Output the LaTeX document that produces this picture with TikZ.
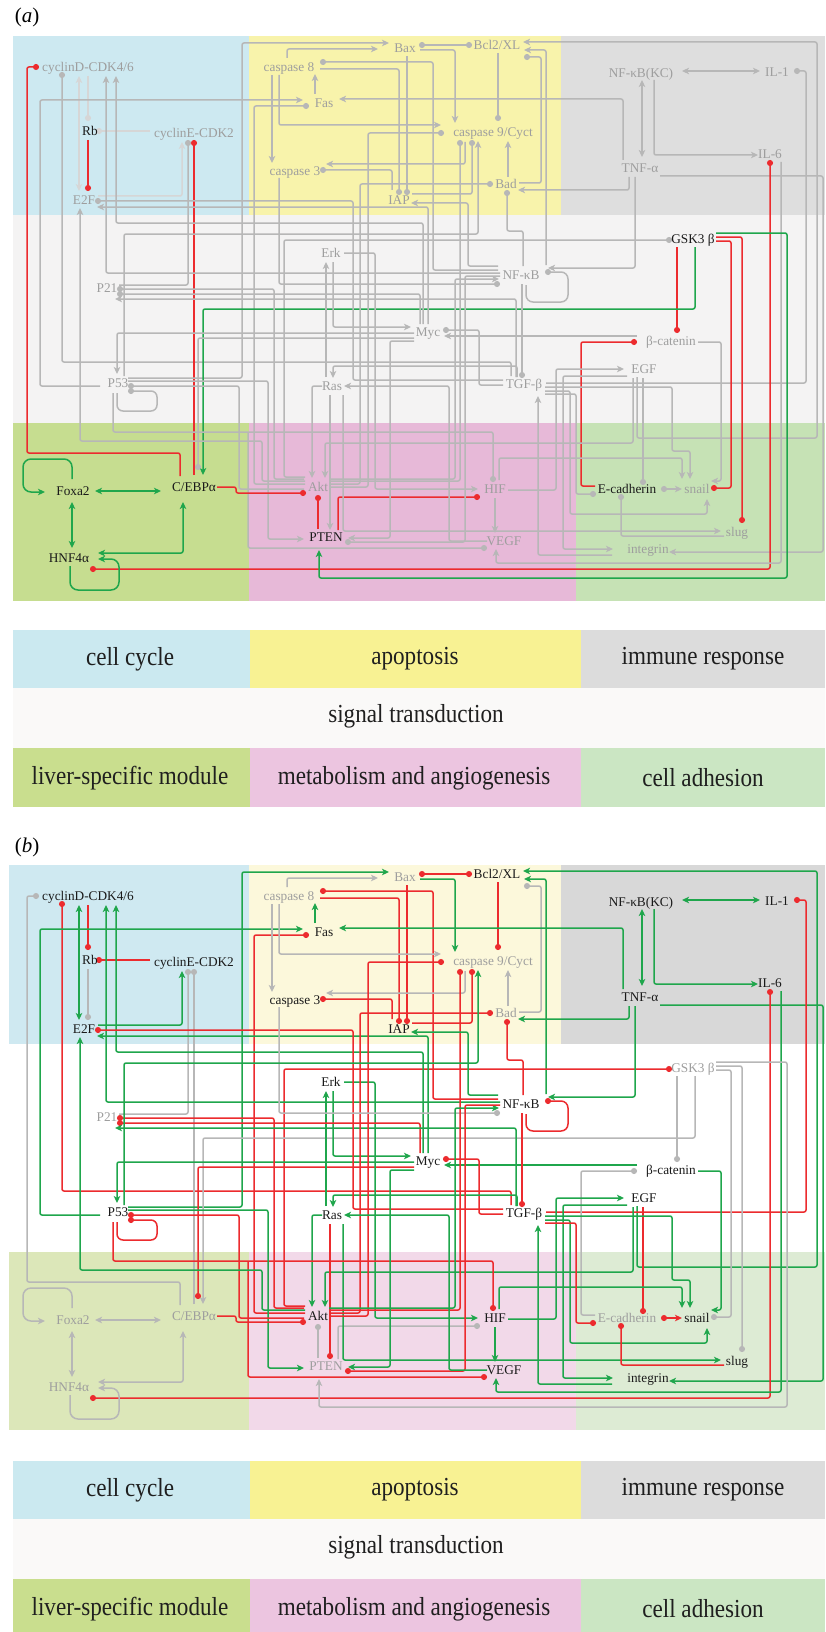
\documentclass[tikz,border=0pt]{standalone}
\usepackage{fontspec}
\setmainfont{Liberation Serif}
\newfontfamily\legfont[FakeStretch=0.89]{Liberation Serif}
\usetikzlibrary{arrows.meta}
% line colours
\definecolor{lnG}{HTML}{B7B7B7}
\definecolor{lnL}{HTML}{D6D6D6}
\definecolor{lnR}{HTML}{EC2B2E}
\definecolor{lnN}{HTML}{1FA64C}
\definecolor{txK}{HTML}{1A1A1A}
\definecolor{txG}{HTML}{9E9E9E}
% panel a backgrounds
\definecolor{aBlue}{HTML}{CDE9F1}
\definecolor{aYel}{HTML}{F8F3AB}
\definecolor{aGry}{HTML}{DEDEDE}
\definecolor{aMid}{HTML}{F4F3F3}
\definecolor{aLiv}{HTML}{C6DD90}
\definecolor{aPnk}{HTML}{E7B9D8}
\definecolor{aAdh}{HTML}{C6E2B5}
% panel b backgrounds
\definecolor{bBlue}{HTML}{CFE9F1}
\definecolor{bYel}{HTML}{FCF8DB}
\definecolor{bGry}{HTML}{D8D8D8}
\definecolor{bMid}{HTML}{FFFFFF}
\definecolor{bLiv}{HTML}{DCE7B9}
\definecolor{bPnk}{HTML}{F2D9E9}
\definecolor{bAdh}{HTML}{DDEBD4}
% legend
\definecolor{gBlue}{HTML}{CBE9F0}
\definecolor{gYel}{HTML}{F8F293}
\definecolor{gGry}{HTML}{DCDCDC}
\definecolor{gMid}{HTML}{FAF9F8}
\definecolor{gLiv}{HTML}{C9DE8E}
\definecolor{gPnk}{HTML}{ECC5E0}
\definecolor{gAdh}{HTML}{CBE6C3}

\tikzset{
 ed/.style={line width=1.5pt, rounded corners=2pt},
 tpA/.style={-{Stealth[length=7pt,width=6.5pt,inset=1.8pt]}},
 tpD/.style={-{Circle[length=6pt]}},
 tpAA/.style={{Stealth[length=7pt,width=6.5pt,inset=1.8pt]}-{Stealth[length=7pt,width=6.5pt,inset=1.8pt]}},
 tpDD/.style={{Circle[length=6pt]}-{Circle[length=6pt]}},
 tpDA/.style={{Circle[length=6pt]}-{Stealth[length=7pt,width=6.5pt,inset=1.8pt]}},
 lab/.style={inner sep=0pt, font=\fontsize{13.3}{15}\selectfont, text height=9pt, text depth=0pt},
 leg/.style={inner sep=0pt, font=\legfont\fontsize{26}{29}\selectfont, text=black!88},
}

\newif\ifpb
\newcommand\Edge[5]{\ifpb\draw[ed,ln#2,tp#4] #5;\else\draw[ed,ln#1,tp#3] #5;\fi}
\newcommand\Nd[6]{\ifpb\node[lab,text=tx#6] (#1b) at (#2,#3) {#4};\else\node[lab,text=tx#5] (#1a) at (#2,#3) {#4};\fi}

\newcommand\alledges{%
\Edge{R}{G}{D}{D}{(180,476) -- (180,453) -- (27,453) -- (27,67) -- (39,67)}
\Edge{G}{R}{D}{D}{(511,376) -- (511,362) -- (62,362) -- (62,72)}
\Edge{L}{N}{AA}{AA}{(79,76) -- (79,191)}
\Edge{L}{R}{D}{D}{(88,76) -- (88,121)}
\Edge{R}{G}{D}{D}{(88,140) -- (88,191)}
\Edge{L}{R}{D}{D}{(150,131) -- (96,131)}
\Edge{L}{N}{A}{A}{(98,196) -- (182,196) -- (182,142)}
\Edge{G}{G}{D}{D}{(119,285) -- (188,285) -- (188,140)}
\Edge{R}{G}{D}{D}{(194,475) -- (194,140)}
\Edge{G}{N}{A}{A}{(100,386) -- (40,386) -- (40,100) -- (303,100)}
\Edge{G}{R}{D}{D}{(305,484) -- (254,484) -- (254,106) -- (309,106)}
\Edge{G}{N}{A}{A}{(128,378) -- (242,378) -- (242,43) -- (389,43)}
\Edge{G}{G}{A}{A}{(287,58) -- (287,49) -- (378,49)}
\Edge{G}{N}{A}{A}{(315,94) -- (315,74)}
\Edge{G}{G}{A}{A}{(272,75) -- (272,163)}
\Edge{G}{R}{D}{D}{(498,270) -- (433,270) -- (433,62) -- (320,62)}
\Edge{G}{R}{D}{D}{(320,69) -- (399,69) -- (399,195)}
\Edge{G}{R}{D}{D}{(407,56) -- (407,195)}
\Edge{G}{R}{D}{D}{(392,190) -- (392,170) -- (320,170)}
\Edge{G}{G}{A}{A}{(465,142) -- (465,164) -- (326,164)}
\Edge{G}{R}{DD}{DD}{(419,45) -- (472,45)}
\Edge{G}{N}{A}{A}{(420,50) -- (455,50) -- (455,123)}
\Edge{G}{R}{D}{D}{(498,53) -- (498,121)}
\Edge{G}{N}{A}{A}{(637,377) -- (637,438) -- (817,438) -- (817,42) -- (523,42)}
\Edge{G}{N}{A}{A}{(546,265) -- (546,50) -- (524,50)}
\Edge{G}{G}{D}{D}{(519,183) -- (541,183) -- (541,57) -- (524,57)}
\Edge{G}{G}{A}{A}{(508,177) -- (508,141)}
\Edge{G}{N}{A}{A}{(629,177) -- (629,190) -- (518,190)}
\Edge{G}{N}{AA}{AA}{(682,71) -- (760,71)}
\Edge{G}{N}{AA}{AA}{(642,80) -- (642,157)}
\Edge{G}{N}{A}{A}{(654,80) -- (654,155) -- (758,155)}
\Edge{G}{N}{A}{A}{(623,160) -- (623,99) -- (339,99)}
\Edge{G}{N}{A}{A}{(660,176) -- (823,176) -- (823,552) -- (669,552)}
\Edge{G}{R}{D}{D}{(546,383) -- (806,383) -- (806,71) -- (794,71)}
\Edge{R}{R}{DD}{DD}{(770,160) -- (770,569) -- (90,569)}
\Edge{G}{N}{A}{A}{(781,162) -- (781,563) -- (496,563) -- (496,549)}
\Edge{G}{R}{D}{D}{(305,477) -- (284,477) -- (284,240) -- (672,240)}
\Edge{R}{G}{D}{D}{(677,247) -- (677,333)}
\Edge{N}{G}{A}{A}{(695,247) -- (695,309) -- (203,309) -- (203,475)}
\Edge{N}{G}{A}{A}{(716,233) -- (787,233) -- (787,578) -- (319,578) -- (319,550)}
\Edge{R}{G}{D}{D}{(716,237) -- (742,237) -- (742,523)}
\Edge{R}{G}{D}{D}{(716,241) -- (731,241) -- (731,488) -- (711,488)}
\Edge{G}{N}{A}{A}{(698,342) -- (721,342) -- (721,481) -- (711,481)}
\Edge{R}{G}{D}{D}{(595,486) -- (581,486) -- (581,342) -- (637,342)}
\Edge{G}{N}{A}{A}{(637,336) -- (444,336)}
\Edge{G}{R}{D}{D}{(503,385) -- (479,385) -- (479,330) -- (443,330)}
\Edge{G}{N}{A}{A}{(508,490) -- (556,490) -- (556,369) -- (624,369)}
\Edge{G}{N}{A}{A}{(627,376) -- (563,376) -- (563,549) -- (613,549)}
\Edge{G}{N}{A}{A}{(633,378) -- (633,443) -- (325,443) -- (325,478)}
\Edge{G}{R}{D}{D}{(643,378) -- (643,485)}
\Edge{G}{R}{D}{D}{(522,284) -- (522,378)}
\Edge{G}{R}{D}{D}{(526,285) [rounded corners=7pt] -- (526,302) -- (568,302) -- (568,272) -- (545,272)}
\Edge{G}{R}{D}{D}{(523,266) -- (523,231) -- (507,231) -- (507,190)}
\Edge{G}{N}{A}{A}{(635,177) -- (635,268) -- (548,268)}
\Edge{G}{R}{D}{D}{(414,338) -- (198,338) -- (198,470)}
\Edge{G}{N}{A}{A}{(414,333) -- (117,333) -- (117,374)}
\Edge{G}{N}{A}{A}{(344,253) -- (375,253) -- (375,489) -- (478,489)}
\Edge{G}{N}{A}{A}{(326,377) -- (326,262)}
\Edge{G}{N}{A}{A}{(333,262) -- (333,327) -- (411,327)}
\Edge{G}{N}{A}{A}{(517,377) -- (517,366) -- (333,366) -- (333,378)}
\Edge{G}{N}{A}{A}{(322,386) -- (312,386) -- (312,478)}
\Edge{G}{R}{A}{D}{(330,395) -- (330,530)}
\Edge{R}{G}{D}{D}{(338,530) -- (338,497) -- (480,497)}
\Edge{G}{N}{A}{A}{(343,395) -- (343,531) -- (721,531)}
\Edge{G}{R}{D}{D}{(113,393) -- (113,432) -- (493,432) -- (493,482)}
\Edge{G}{R}{D}{D}{(248,432) -- (248,548) -- (487,548)}
\Edge{G}{N}{A}{A}{(495,498) -- (495,533)}
\Edge{G}{N}{A}{A}{(128,381) -- (268,381) -- (268,539) -- (304,539)}
\Edge{G}{R}{D}{D}{(117,393) [rounded corners=6pt] -- (117,411) -- (157,411) -- (157,391) -- (128,391)}
\Edge{G}{R}{D}{D}{(304,489) -- (239,489) -- (239,386) -- (128,386)}
\Edge{R}{R}{D}{D}{(217,487) -- (236,487) -- (236,493) -- (306,493)}
\Edge{R}{G}{D}{D}{(318,529) -- (318,495)}
\Edge{G}{N}{A}{A}{(305,481) -- (262,481) -- (262,441) -- (80,441) -- (80,208)}
\Edge{G}{R}{D}{D}{(304,479) -- (274,479) -- (274,289) -- (117,289)}
\Edge{G}{R}{D}{D}{(420,324) -- (420,294) -- (117,294)}
\Edge{G}{N}{A}{A}{(516,377) -- (516,299) -- (115,299)}
\Edge{G}{N}{A}{A}{(423,324) -- (423,223) -- (116,223) -- (116,76)}
\Edge{G}{N}{A}{A}{(428,324) -- (428,207) -- (97,207)}
\Edge{G}{N}{A}{A}{(500,273) -- (106,273) -- (106,76)}
\Edge{G}{R}{D}{D}{(503,380) -- (353,380) -- (353,201) -- (95,201)}
\Edge{G}{R}{D}{D}{(329,484) -- (360,484) -- (360,184) -- (493,184)}
\Edge{G}{R}{D}{D}{(329,487) -- (368,487) -- (368,133) -- (444,133)}
\Edge{G}{G}{A}{A}{(279,75) -- (279,125) -- (441,125)}
\Edge{G}{G}{D}{D}{(279,178) -- (279,284) -- (500,284)}
\Edge{G}{R}{D}{D}{(412,194) -- (472,194) -- (472,140)}
\Edge{G}{R}{D}{D}{(329,481) -- (460,481) -- (460,140)}
\Edge{G}{N}{A}{A}{(124,376) -- (124,234) -- (478,234) -- (478,141)}
\Edge{G}{N}{A}{A}{(498,266) -- (468,266) -- (468,203) -- (411,203)}
\Edge{G}{N}{A}{A}{(329,479) -- (455,479) -- (455,279) -- (499,279)}
\Edge{G}{N}{A}{A}{(414,341) -- (390,341) -- (390,538) -- (348,538)}
\Edge{G}{R}{D}{D}{(500,276) -- (465,276) -- (465,542) -- (345,542)}
\Edge{G}{N}{A}{A}{(487,541) -- (449,541) -- (449,386) -- (344,386)}
\Edge{G}{N}{A}{A}{(499,480) -- (499,458) -- (682,458) -- (682,479)}
\Edge{G}{N}{A}{A}{(545,387) -- (672,387) -- (672,451) -- (690,451) -- (690,479)}
\Edge{G}{N}{A}{A}{(545,391) -- (570,391) -- (570,514) -- (707,514) -- (707,499)}
\Edge{G}{R}{D}{D}{(545,394) -- (576,394) -- (576,494) -- (596,494)}
\Edge{G}{R}{DA}{DA}{(661,489) -- (682,489)}
\Edge{G}{R}{D}{D}{(724,536) -- (621,536) -- (621,494)}
\Edge{G}{N}{A}{A}{(612,555) -- (538,555) -- (538,396)}
\Edge{N}{G}{A}{A}{(72,479) [rounded corners=8pt] -- (72,459) -- (23,459) -- (23,492) -- (45,492)}
\Edge{N}{G}{AA}{AA}{(95,491) -- (161,491)}
\Edge{N}{G}{AA}{AA}{(72,502) -- (72,548)}
\Edge{N}{G}{AA}{AA}{(183,502) -- (183,553) -- (98,553)}
\Edge{N}{G}{A}{A}{(70,566) [rounded corners=8pt] -- (70,590) -- (119,590) -- (119,559) -- (98,559)}
}

\newcommand\allnodes{%
\Nd{cycD}{88}{67}{cyclinD-CDK4/6}{G}{K}
\Nd{Rb}{90}{131}{Rb}{K}{K}
\Nd{cycE}{194}{133}{cyclinE-CDK2}{G}{K}
\Nd{EtwoF}{84}{200}{E2F}{G}{K}
\Nd{Ptwoone}{107}{288}{P21}{G}{G}
\Nd{Pfive}{118}{383}{P53}{G}{K}
\Nd{caseight}{289}{67}{caspase 8}{G}{G}
\Nd{Bax}{405}{48}{Bax}{G}{G}
\Nd{Fas}{324}{103}{Fas}{G}{K}
\Nd{casthree}{295}{171}{caspase 3}{G}{K}
\Nd{IAP}{399}{200}{IAP}{G}{K}
\Nd{Erk}{331}{253}{Erk}{G}{K}
\Nd{Bcl}{497}{45}{Bcl2/XL}{G}{K}
\Nd{casnine}{493}{132}{caspase 9/Cyct}{G}{G}
\Nd{Bad}{506}{184}{Bad}{G}{G}
\Nd{NFKC}{641}{73}{NF-κB(KC)}{G}{K}
\Nd{ILone}{777}{72}{IL-1}{G}{K}
\Nd{TNF}{640}{168}{TNF-α}{G}{K}
\Nd{ILsix}{770}{154}{IL-6}{G}{K}
\Nd{GSK}{693}{239}{GSK3 β}{K}{G}
\Nd{NFkB}{521}{275}{NF-κB}{G}{K}
\Nd{Myc}{428}{332}{Myc}{G}{K}
\Nd{Ras}{332}{386}{Ras}{G}{K}
\Nd{bcat}{671}{341}{β-catenin}{G}{K}
\Nd{EGF}{644}{369}{EGF}{G}{K}
\Nd{TGF}{524}{384}{TGF-β}{G}{K}
\Nd{Foxa}{73}{491}{Foxa2}{K}{G}
\Nd{CEBP}{194}{487}{C/EBPα}{K}{G}
\Nd{Akt}{318}{487}{Akt}{G}{K}
\Nd{PTEN}{326}{537}{PTEN}{K}{G}
\Nd{HNF}{69}{558}{HNF4α}{K}{G}
\Nd{HIF}{495}{489}{HIF}{G}{K}
\Nd{Ecad}{627}{489}{E-cadherin}{K}{G}
\Nd{snail}{697}{489}{snail}{G}{K}
\Nd{slug}{737}{532}{slug}{G}{K}
\Nd{VEGF}{504}{541}{VEGF}{G}{K}
\Nd{integ}{648}{549}{integrin}{G}{K}
}

% #1 prefix of colours, #2 left edge
\newcommand\regions[2]{%
\fill[#1Blue] (#2,36) rectangle (249,214.5);
\fill[#1Yel] (249,36) rectangle (561,214.5);
\fill[#1Gry] (561,36) rectangle (825,214.5);
\fill[#1Mid] (#2,214.5) rectangle (825,422.5);
\fill[#1Liv] (#2,422.5) rectangle (249,601);
\fill[#1Pnk] (249,422.5) rectangle (576,601);
\fill[#1Adh] (576,422.5) rectangle (825,601);
}

% #1 suffix for names
\newcommand\legendrows[1]{%
\fill[gBlue] (13,630) rectangle (250,688);
\fill[gYel] (250,630) rectangle (581,688);
\fill[gGry] (581,630) rectangle (825,688);
\fill[gMid] (13,688) rectangle (825,748);
\fill[gLiv] (13,748) rectangle (250,807);
\fill[gPnk] (250,748) rectangle (581,807);
\fill[gAdh] (581,748) rectangle (825,807);
\node[leg] (lcc#1) at (130,659) {cell cycle};
\node[leg] (lap#1) at (415,659) {apoptosis};
\node[leg] (lim#1) at (703,659) {immune response};
\node[leg] (lst#1) at (416,716) {signal transduction};
\node[leg] (llv#1) at (130,778) {liver-specific module};
\node[leg] (lma#1) at (414,778) {metabolism and angiogenesis};
\node[leg] (lad#1) at (703,778) {cell adhesion};
}

\begin{document}
\begin{tikzpicture}[x=1pt,y=-1pt]
\useasboundingbox (0,0) rectangle (825,1632);
\fill[white] (0,0) rectangle (825,1632);
% ---- panel (a)
\node[font=\fontsize{21}{24}\selectfont, inner sep=0pt] (tagA) at (27,17) {(\textit{a})};
\pbfalse
\begin{scope}
\regions{a}{13}
\alledges
\allnodes
\end{scope}
\begin{scope}
\legendrows{a}
\end{scope}
% ---- panel (b)
\node[font=\fontsize{21}{24}\selectfont, inner sep=0pt] (tagB) at (27,847) {(\textit{b})};
\pbtrue
\begin{scope}[shift={(0,829)}]
\regions{b}{9}
\alledges
\allnodes
\end{scope}
\begin{scope}[shift={(0,831)}]
\legendrows{b}
\end{scope}
\end{tikzpicture}
\end{document}
